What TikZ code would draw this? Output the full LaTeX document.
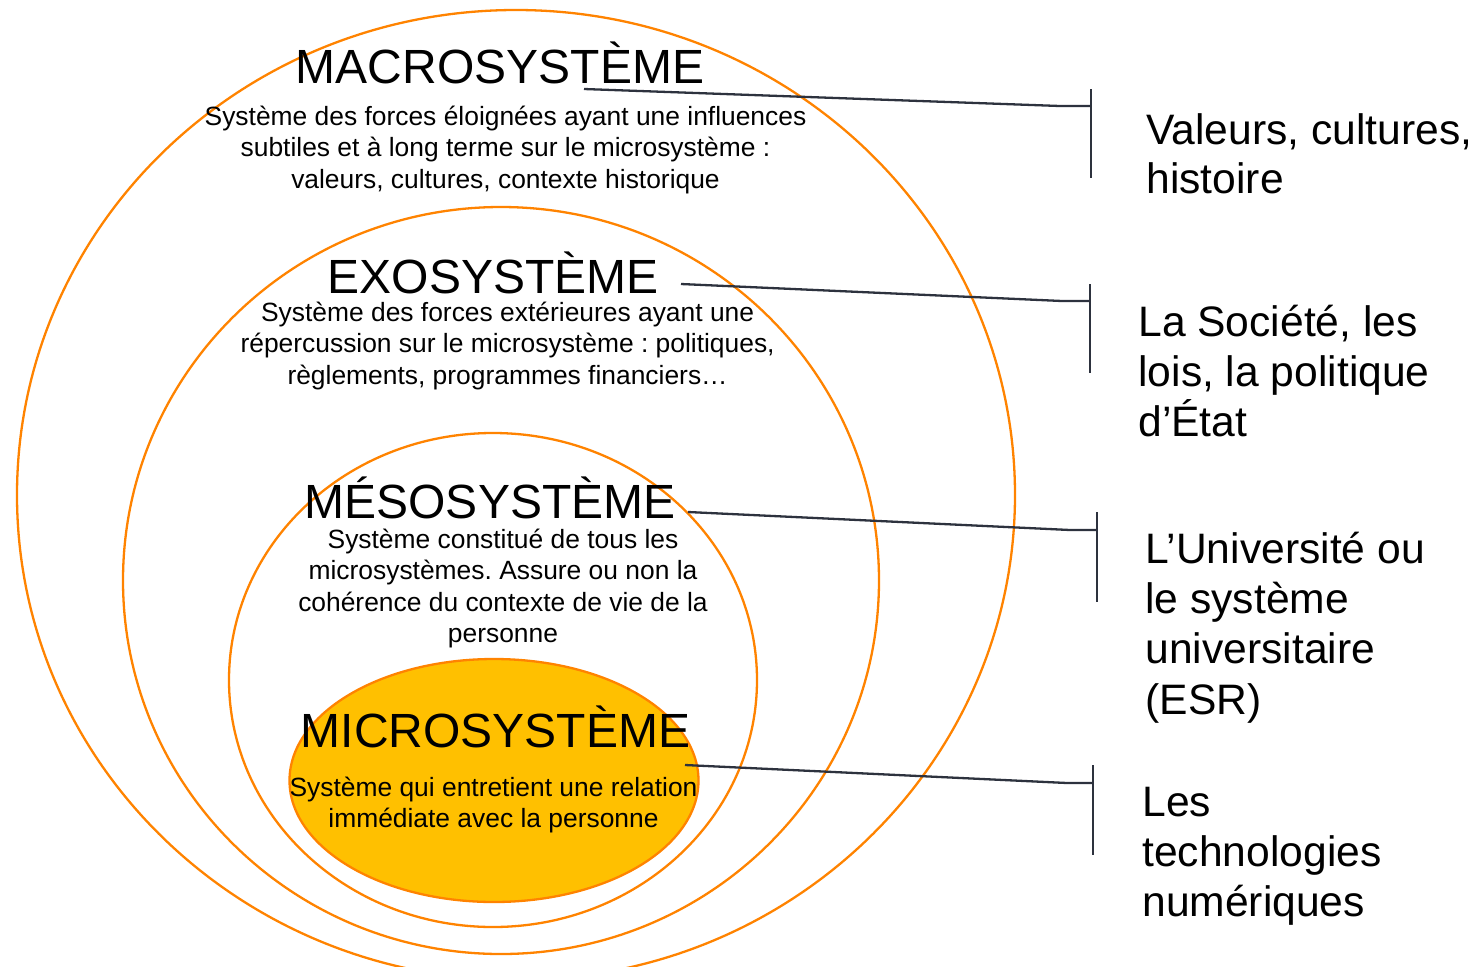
\documentclass[tikz,border=0pt]{standalone}
\usepackage{fontspec}
\setmainfont{Liberation Sans}
\frenchspacing
\definecolor{ringorange}{RGB}{255,131,0}
\definecolor{microfill}{RGB}{255,192,0}
\definecolor{connink}{RGB}{45,50,62}
\newcommand\clines[1]{\vtop{\lineskiplimit=-100pt\relax\halign{\hfil##\hfil\cr#1\crcr}}}
\newcommand\llines[1]{\vtop{\lineskiplimit=-100pt\relax\halign{##\hfil\cr#1\crcr}}}
\tikzset{
  ring/.style={draw=ringorange, line width=1.15pt},
  conn/.style={draw=connink, line width=1.15pt},
  titletext/.style={inner sep=0pt, anchor=base, font=\fontsize{24}{28}\selectfont},
  bodytext/.style={inner sep=0pt, anchor=base, font=\fontsize{13.2}{15.8}\selectfont},
  sidetext/.style={inner sep=0pt, anchor=base west, font=\fontsize{21.3}{25.2}\selectfont},
}
\begin{document}
\begin{tikzpicture}[x=0.5pt,y=-0.5pt]
\useasboundingbox (0,0) rectangle (1480,966);
\clip (0,0) rectangle (1480,966);
% ellipses
\draw[ring] (516,495) ellipse [x radius=249.5pt, y radius=242.5pt];
\draw[ring] (501,580.5) ellipse [x radius=189pt, y radius=186.75pt];
\draw[ring] (493,680) ellipse [x radius=132pt, y radius=123.5pt];
\draw[ring, fill=microfill] (494,780.5) ellipse [x radius=102.25pt, y radius=60.75pt];
% titles
\node[titletext] (macroT) at (500,83) {MACROSYSTÈME};
\node[titletext] (exoT) at (493,293) {EXOSYSTÈME};
\node[titletext] (mesoT) at (490,518) {MÉSOSYSTÈME};
\node[titletext] (microT) at (495.5,747) {MICROSYSTÈME};
% descriptions
\node[bodytext] (macroB) at (505.5,125) {\clines{Système des forces éloignées ayant une influences\cr subtiles et à long terme sur le microsystème :\cr valeurs, cultures, contexte historique}};
\node[bodytext] (exoB) at (507.6,321) {\clines{Système des forces extérieures ayant une\cr répercussion sur le microsystème : politiques,\cr règlements, programmes financiers…}};
\node[bodytext] (mesoB) at (503,548) {\clines{Système constitué de tous les\cr microsystèmes. Assure ou non la\cr cohérence du contexte de vie de la\cr personne}};
\node[bodytext] (microB) at (493.5,796) {\clines{Système qui entretient une relation\cr immédiate avec la personne}};
% side labels
\node[sidetext, font=\fontsize{21.3}{24.5}\selectfont] (valeurs) at (1146,144) {\llines{Valeurs, cultures,\cr histoire}};
\node[sidetext] (societe) at (1138,336) {\llines{La Société, les\cr lois, la politique\cr d’État}};
\node[sidetext] (univ) at (1145,563) {\llines{L’Université ou\cr le système\cr universitaire\cr (ESR)}};
\node[sidetext] (techno) at (1142,816) {\llines{Les\cr technologies\cr numériques}};
% connector coordinates
\coordinate (s1) at (584,89);  \coordinate (k1) at (1060,106); \coordinate (j1) at (1091,106);
\coordinate (t1) at (1091,89); \coordinate (b1) at (1091,178);
\coordinate (s2) at (681,284); \coordinate (k2) at (1062,301); \coordinate (j2) at (1090,301);
\coordinate (t2) at (1090,284); \coordinate (b2) at (1090,373);
\coordinate (s3) at (688,512); \coordinate (k3) at (1070,530); \coordinate (j3) at (1097,530);
\coordinate (t3) at (1097,512); \coordinate (b3) at (1097,602);
\coordinate (s4) at (685,765); \coordinate (k4) at (1067,783); \coordinate (j4) at (1093,783);
\coordinate (t4) at (1093,765); \coordinate (b4) at (1093,855);
% connectors
\draw[conn] (s1) -- (k1) -- (j1);
\draw[conn] (t1) -- (b1);
\draw[conn] (s2) -- (k2) -- (j2);
\draw[conn] (t2) -- (b2);
\draw[conn] (s3) -- (k3) -- (j3);
\draw[conn] (t3) -- (b3);
\draw[conn] (s4) -- (k4) -- (j4);
\draw[conn] (t4) -- (b4);
\end{tikzpicture}
\end{document}
